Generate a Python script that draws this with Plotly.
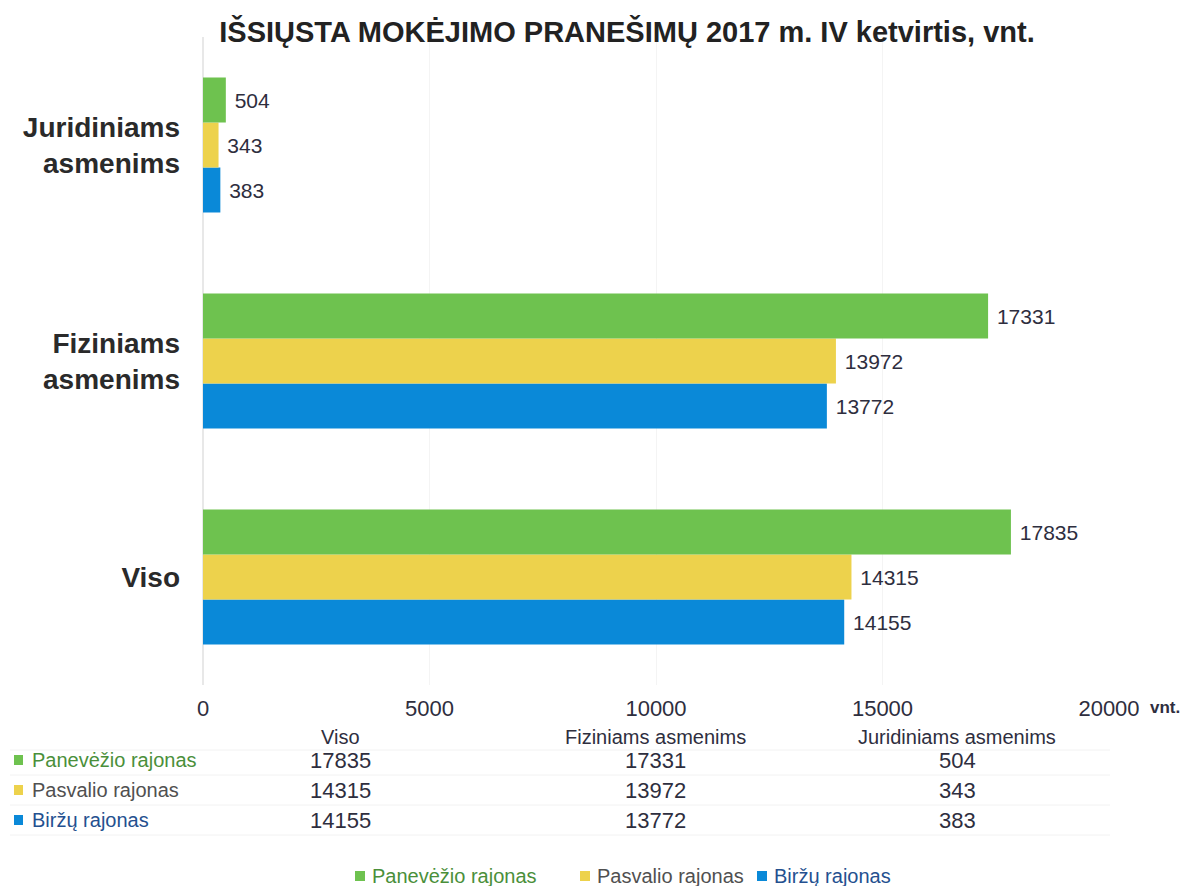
import plotly.graph_objects as go

categories = ["Viso", "Fiziniams asmenims", "Juridiniams asmenims"]
cat_labels = ["Viso", "Fiziniams<br>asmenims", "Juridiniams<br>asmenims"]
series_names = ["Panevėžio rajonas", "Pasvalio rajonas", "Biržų rajonas"]
panevezio = [17835, 17331, 504]
pasvalio = [14315, 13972, 343]
birzu = [14155, 13772, 383]
tick_vals = [0, 5000, 10000, 15000, 20000]
title_text = "IŠSIŲSTA MOKĖJIMO PRANEŠIMŲ 2017 m. IV ketvirtis, vnt."
table_headers = ["Viso", "Fiziniams asmenims", "Juridiniams asmenims"]

colors = {"Panevėžio rajonas": "#6EC24F", "Pasvalio rajonas": "#EDD24C", "Biržų rajonas": "#0A89D8"}
text_colors = {"Panevėžio rajonas": "#4A8F3A", "Pasvalio rajonas": "#505050", "Biržų rajonas": "#24508F"}
values = {"Panevėžio rajonas": panevezio, "Pasvalio rajonas": pasvalio, "Biržų rajonas": birzu}

SANS = "Liberation Sans, Arial, sans-serif"
DARK = "#2E2E3E"

# page body has an 8px default margin; work in reference pixels and shift
OFF = 8
W, H = 1196 - OFF, 886 - OFF
L, R, T, B = 203 - OFF, 1109 - OFF, 37 - OFF, 685 - OFF


def paper(xr, yr):
    """reference pixel -> paper coordinates"""
    xf, yf = xr - OFF, yr - OFF
    return (xf - L) / (R - L), (B - yf) / (B - T)


fig = go.Figure()
# bottom-to-top inside each group: Biržų, Pasvalio, Panevėžio
for name in reversed(series_names):
    fig.add_trace(go.Bar(
        y=categories, x=values[name], orientation="h", name=name,
        marker=dict(color=colors[name], line=dict(width=0)),
        text=["\u00a0" + str(v) for v in values[name]], textposition="outside",
        textfont=dict(family=SANS, size=21, color=DARK),
        cliponaxis=False, showlegend=False,
    ))

fig.update_layout(
    width=W, height=H,
    paper_bgcolor="white", plot_bgcolor="white",
    margin=dict(l=L, r=W - R, t=T, b=H - B, autoexpand=False),
    barmode="group", bargap=0.375, bargroupgap=0,
    title=dict(text="<b>" + title_text + "</b>", x=(627 - OFF) / W, xanchor="center",
               y=1 - (32 - OFF) / H, yanchor="middle", yref="container",
               font=dict(family=SANS, size=29, color="#222222")),
    xaxis=dict(range=[0, 20000], tickvals=tick_vals, ticktext=[str(v) for v in tick_vals],
               showgrid=True, gridcolor="#F4F4F4", zeroline=True, zerolinecolor="#E8E8E8",
               showline=False, ticks="", ticklen=0, ticklabelstandoff=8,
               tickfont=dict(family=SANS, size=22, color=DARK)),
    yaxis=dict(categoryorder="array", categoryarray=categories,
               tickvals=categories, ticktext=["<b>" + c + "</b>" for c in cat_labels],
               tickfont=dict(family=SANS, size=28, color="#2A2A2A"),
               showgrid=False, zeroline=False, showline=False, ticks="", ticklabelstandoff=22),
    showlegend=False,
)

# "vnt." axis unit
xx, yy = paper(1165, 707)
fig.add_annotation(x=xx, y=yy, xref="paper", yref="paper", text="<b>vnt.</b>",
                   showarrow=False, font=dict(family=SANS, size=17, color=DARK),
                   xanchor="center", yanchor="middle")

# data table below the chart
col_x = [340, 655, 957]
header_y = 737
row_y = [760, 790, 820]
for cx, h in zip(col_x, table_headers):
    xx, yy = paper(cx, header_y)
    fig.add_annotation(x=xx, y=yy, xref="paper", yref="paper", text=h, showarrow=False,
                       font=dict(family=SANS, size=20, color=DARK),
                       xanchor="center", yanchor="middle")
for ry, name in zip(row_y, series_names):
    xx, yy = paper(30, ry)
    fig.add_annotation(x=xx, y=yy, xref="paper", yref="paper", text=name, showarrow=False,
                       font=dict(family=SANS, size=20, color=text_colors[name]),
                       xanchor="left", yanchor="middle")
    x0, y0 = paper(14, ry + 5)
    x1, y1 = paper(23, ry - 5)
    fig.add_shape(type="rect", xref="paper", yref="paper", x0=x0, x1=x1, y0=y0, y1=y1,
                  fillcolor=colors[name], line=dict(width=0))
    for cx, v in zip(col_x, values[name]):
        xx, yy = paper(cx, ry)
        fig.add_annotation(x=xx, y=yy, xref="paper", yref="paper", text=str(v), showarrow=False,
                           font=dict(family=SANS, size=22, color=DARK),
                           xanchor="center", yanchor="middle")

# faint table lines
for ly in [750, 775, 805, 835]:
    x0, y0 = paper(10, ly)
    x1, _ = paper(1110, ly)
    fig.add_shape(type="line", xref="paper", yref="paper", x0=x0, x1=x1, y0=y0, y1=y0,
                  line=dict(color="#F2F2F2", width=1))

# legend at the bottom
legend_pos = [355, 580, 757]
for lx, name in zip(legend_pos, series_names):
    x0, y0 = paper(lx, 881)
    x1, y1 = paper(lx + 10, 871)
    fig.add_shape(type="rect", xref="paper", yref="paper", x0=x0, x1=x1, y0=y0, y1=y1,
                  fillcolor=colors[name], line=dict(width=0))
    xx, yy = paper(lx + 15, 876)
    fig.add_annotation(x=xx, y=yy, xref="paper", yref="paper", text=name, showarrow=False,
                       font=dict(family=SANS, size=20, color=text_colors[name]),
                       xanchor="left", yanchor="middle")

fig.write_html("out.html")
